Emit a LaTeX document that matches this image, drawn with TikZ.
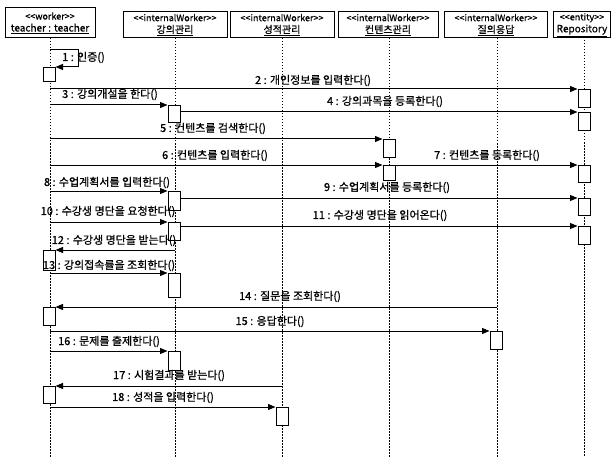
\documentclass[tikz,border=0pt]{standalone}
\usepackage{fontspec}
\setmainfont[FakeBold=0.8]{Noto Sans CJK KR}
\usetikzlibrary{arrows.meta}
\newcommand\stereo[1]{{\fontsize{9}{10}\selectfont #1}}
\newcommand\objname[1]{{\fontsize{10}{11}\selectfont\underline{#1}}}
\begin{document}
\begin{tikzpicture}[x=1pt,y=-1pt,
 hdr/.style={draw, line width=1pt, fill=white, inner sep=0.5pt, align=center, minimum height=26pt},
 life/.style={line width=0.8pt, dash pattern=on 1.5pt off 1.5pt},
 act/.style={draw, line width=1pt, fill=white, minimum width=12pt, inner sep=0pt, anchor=north},
 msg/.style={line width=1pt, -{Triangle[length=7.5pt,width=6pt]}},
 lbl/.style={font=\fontsize{11}{12}\selectfont, inner sep=0pt, yshift=1.5pt}
]
\useasboundingbox (0,0) rectangle (612,457);
% headers
\node[hdr, minimum width=90pt, minimum height=30pt] (h1) at (50,23) {\stereo{<{}<worker>{}>}\\\objname{teacher : teacher}};
\node[hdr, minimum width=104pt] (h2) at (175,25) {\stereo{<{}<internalWorker>{}>}\\\objname{강의관리}};
\node[hdr, minimum width=104pt] (h3) at (282,25) {\stereo{<{}<internalWorker>{}>}\\\objname{성적관리}};
\node[hdr, minimum width=100pt] (h4) at (388,25) {\stereo{<{}<internalWorker>{}>}\\\objname{컨텐츠관리}};
\node[hdr, minimum width=103pt] (h5) at (496,25) {\stereo{<{}<internalWorker>{}>}\\\objname{질의응답}};
\node[hdr, minimum width=57pt] (h6) at (582,25) {\stereo{<{}<entity>{}>}\\\objname{Repository}};
% lifelines
\coordinate (e1) at (50,457);
\coordinate (e2) at (175,457);
\coordinate (e3) at (282,457);
\coordinate (e4) at (389,457);
\coordinate (e5) at (497,457);
\coordinate (e6) at (584,457);
\draw[life] (50,38) -- (e1);
\draw[life] (175,38) -- (e2);
\draw[life] (282,38) -- (e3);
\draw[life] (389,38) -- (e4);
\draw[life] (497,38) -- (e5);
\draw[life] (584,40) -- (e6);
% activation boxes
\node[act, minimum height=14pt] (a1) at (49,67) {};
\node[act, minimum height=18pt] (a2) at (584,89) {};
\node[act, minimum height=17pt] (a3) at (174,105) {};
\node[act, minimum height=18pt] (a4) at (584,112) {};
\node[act, minimum height=18pt] (a5) at (389,139) {};
\node[act, minimum height=15pt] (a6) at (389,165) {};
\node[act, minimum height=17pt] (a7) at (584,165) {};
\node[act, minimum height=19pt] (a8) at (174,191) {};
\node[act, minimum height=17pt] (a9) at (584,198) {};
\node[act, minimum height=18pt] (a10) at (174,222) {};
\node[act, minimum height=18pt] (a11) at (584,226) {};
\node[act, minimum height=20pt] (a12) at (49,250) {};
\node[act, minimum height=24pt] (a13) at (174,273) {};
\node[act, minimum height=18pt] (a14) at (49,307) {};
\node[act, minimum height=18pt] (a15) at (496,331) {};
\node[act, minimum height=19pt] (a16) at (174,351) {};
\node[act, minimum height=17pt] (a17) at (49,386) {};
\node[act, minimum height=18pt] (a18) at (282,407) {};
% message start points
\coordinate (s1) at (50,50);
\coordinate (s2) at (50,89);
\coordinate (s3) at (50,105);
\coordinate (s5) at (50,139);
\coordinate (s6) at (50,165);
\coordinate (s8) at (50,191);
\coordinate (s10) at (50,222);
\coordinate (s12) at (175,250);
\coordinate (s13) at (50,273);
\coordinate (s14) at (497,307);
\coordinate (s15) at (50,331);
\coordinate (s16) at (50,351);
\coordinate (s17) at (282,386);
\coordinate (s18) at (50,407);
% messages
\draw[msg] (s1) -- (78,50) -- (78,67) -- (a1.north east);
\draw[msg] (s2) -- (a2.north west);
\draw[msg] (s3) -- (a3.north west);
\draw[msg] (a3.east |- a4.north) -- (a4.north west);
\draw[msg] (s5) -- (a5.north west);
\draw[msg] (s6) -- (a6.north west);
\draw[msg] (a6.north east) -- (a7.north west);
\draw[msg] (s8) -- (a8.north west);
\draw[msg] (a8.east |- a9.north) -- (a9.north west);
\draw[msg] (s10) -- (a10.north west);
\draw[msg] (a10.east |- a11.north) -- (a11.north west);
\draw[msg] (s12) -- (a12.north east);
\draw[msg] (s13) -- (a13.north west);
\draw[msg] (s14) -- (a14.north east);
\draw[msg] (s15) -- (a15.north west);
\draw[msg] (s16) -- (a16.north west);
\draw[msg] (s17) -- (a17.north east);
\draw[msg] (s18) -- (a18.north west);
% labels
\node[lbl, anchor=west] (l1) at (62,59) {1 : 인증()};
\node[lbl] (l2) at (313,82) {2 : 개인정보를 입력한다()};
\node[lbl] (l3) at (110,96) {3 : 강의개설을 한다()};
\node[lbl] (l4) at (385,103) {4 : 강의과목을 등록한다()};
\node[lbl] (l5) at (213,130) {5 : 컨텐츠를 검색한다()};
\node[lbl] (l6) at (215,157) {6 : 컨텐츠를 입력한다()};
\node[lbl] (l7) at (487,157) {7 : 컨텐츠를 등록한다()};
\node[lbl] (l8) at (107,184) {8 : 수업계획서를 입력한다()};
\node[lbl] (l9) at (387,189) {9 : 수업계획서를 등록한다()};
\node[lbl] (l10) at (108,213) {10 : 수강생 명단을 요청한다()};
\node[lbl] (l11) at (380,217) {11 : 수강생 명단을 읽어온다()};
\node[lbl] (l12) at (114,242) {12 : 수강생 명단을 받는다()};
\node[lbl] (l13) at (109,267) {13 : 강의접속률을 조회한다()};
\node[lbl] (l14) at (290,298) {14 : 질문을 조회한다()};
\node[lbl] (l15) at (270,323) {15 : 응답한다()};
\node[lbl] (l16) at (109,343) {16 : 문제를 출제한다()};
\node[lbl] (l17) at (169,377) {17 : 시험결과를 받는다()};
\node[lbl] (l18) at (163,399) {18 : 성적을 입력한다()};
\end{tikzpicture}
\end{document}
